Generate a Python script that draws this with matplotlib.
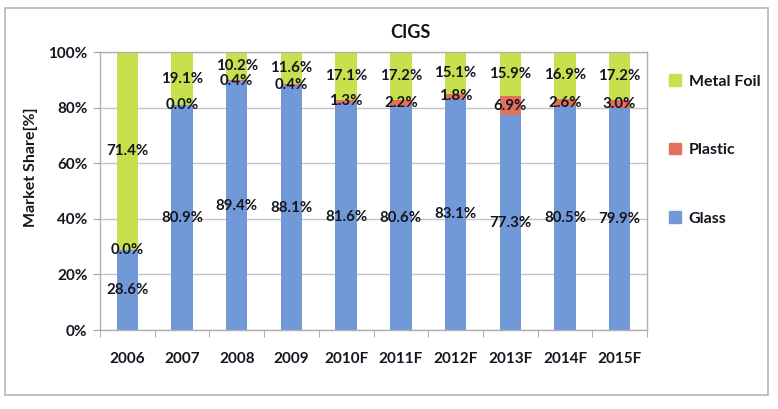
import matplotlib
matplotlib.use("Agg")
import matplotlib.pyplot as plt
import numpy as np
from matplotlib.patches import Rectangle, Patch

years = ["2006", "2007", "2008", "2009", "2010F", "2011F", "2012F", "2013F", "2014F", "2015F"]
glass = [28.6, 80.9, 89.4, 88.1, 81.6, 80.6, 83.1, 77.3, 80.5, 79.9]
plastic = [0.0, 0.0, 0.4, 0.4, 1.3, 2.2, 1.8, 6.9, 2.6, 3.0]
metal_foil = [71.4, 19.1, 10.2, 11.6, 17.1, 17.2, 15.1, 15.9, 16.9, 17.2]

c_glass = "#7199d8"
c_plastic = "#e2705a"
c_metal = "#c9e04e"
txt = "#15151f"
font = "Lato"

plt.rcParams['font.family'] = [font, 'DejaVu Sans']

fig = plt.figure(figsize=(7.78, 4.09), dpi=100)
ax = fig.add_axes([100/778, 1-330/409, (647-100)/778, (330-52)/409])

g = np.array(glass); p = np.array(plastic); m = np.array(metal_foil)
tot = g + p + m
gs, ps, ms = g/tot*100, p/tot*100, m/tot*100
x = np.arange(len(years))
w = 0.39
ax.bar(x, gs, w, color=c_glass, zorder=2)
ax.bar(x, ps, w, bottom=gs, color=c_plastic, zorder=2)
ax.bar(x, ms, w, bottom=gs+ps, color=c_metal, zorder=2)

lab_kw = dict(ha='center', va='center', fontsize=10.8, fontweight='bold', color=txt, zorder=3)
for i in range(len(years)):
    ax.text(x[i], gs[i]/2, f"{glass[i]:.1f}%", **lab_kw)
    ax.text(x[i], gs[i] + ps[i]/2, f"{plastic[i]:.1f}%", **lab_kw)
    ax.text(x[i], gs[i] + ps[i] + ms[i]/2, f"{metal_foil[i]:.1f}%", **lab_kw)

ax.set_xlim(-0.5, len(years)-0.5)
ax.set_ylim(0, 100)
ax.set_yticks(np.arange(0, 101, 20))
ax.set_yticklabels([f"{v}%" for v in range(0, 101, 20)])
ax.set_xticks(x)
ax.set_xticklabels(years)
ax.set_xticks(np.arange(-0.5, len(years), 1), minor=True)
ax.tick_params(axis='x', which='major', length=0, pad=16, labelsize=11)
ax.tick_params(axis='x', which='minor', length=5, color='#a0a0a0', direction='out')
ax.tick_params(axis='y', length=5, color='#a0a0a0', labelsize=11, pad=4)
for lab in ax.get_xticklabels() + ax.get_yticklabels():
    lab.set_fontweight('bold')
    lab.set_color(txt)
ax.yaxis.grid(True, color='#c4c4c4', linewidth=1, zorder=0)
ax.set_axisbelow(True)
for s in ax.spines.values():
    s.set_color('#b0b0b0')
    s.set_linewidth(1)

ax.set_ylabel("Market Share[%]", fontsize=11.5, fontweight='bold', color=txt)
ax.yaxis.set_label_coords(-0.113, 0.585)
fig.text(410/778, 1-33/409, "CIGS", ha='center', va='center', fontsize=13, fontweight='bold', color=txt)

handles = [Patch(color=c_metal), Patch(color=c_plastic), Patch(color=c_glass)]
leg = ax.legend(handles, ["Metal Foil", "Plastic", "Glass"], loc='upper left',
                bbox_to_anchor=(655/778, 1-60/409), bbox_transform=fig.transFigure,
                frameon=False, labelspacing=3.4, handlelength=0.7, handleheight=0.7,
                handletextpad=0.5, prop={'family': font, 'weight': 'bold', 'size': 11.5})
for t in leg.get_texts():
    t.set_color(txt)

fig.add_artist(Rectangle((5/778, 1-395/409), (768-5)/778, (395-8)/409,
                         transform=fig.transFigure, fill=False, edgecolor='#b8b8b8', linewidth=1.2))

fig.savefig("out.png", dpi=100)
